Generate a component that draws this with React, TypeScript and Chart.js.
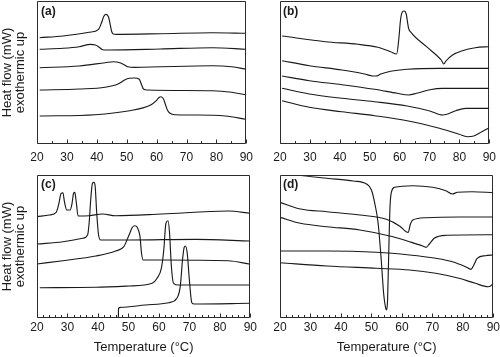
import React, { useEffect, useRef } from 'react';
import { Chart, registerables } from 'chart.js';

Chart.register(...registerables);

// ---------- data (temperature °C, heat flow in arbitrary offset units) ----------
const TEMP_MIN = 20;
const TEMP_MAX = 90;
const HF_MIN = 0;
const HF_MAX = 143;
const xTickLabels = [20, 30, 40, 50, 60, 70, 80, 90];
const panelLabels = ['(a)', '(b)', '(c)', '(d)'];
const yTitle = ['Heat flow (mW)', 'exothermic up'];
const xTitle = 'Temperature (°C)';

// panel (a)
const a1 = [[20.9,106.3],[28.7,108],[37.4,111.7],[40.6,114.7],[41.5,120.7],[42.4,128],[43.1,129.7],[43.9,127.3],[44.4,120.7],[45.0,112.3],[45.5,110],[46.6,109.7],[61.2,110.3],[78.6,111.3],[90,110.7]];
const a2 = [[20.9,94.7],[28.7,95.7],[34.1,97.3],[37.9,99.7],[39.5,99],[40.6,97.3],[41.9,94.3],[43.9,94],[61.2,95],[78.6,96.3],[90,94.7]];
const a3 = [[20.9,76.3],[34.1,78],[42.8,81.3],[45.5,82.3],[47.7,81.3],[49.3,79],[50.4,77.3],[52.6,76.7],[78.6,78.3],[85.1,77.3],[90,74.7]];
const a4 = [[20.9,54],[34.1,55],[42.8,56.7],[47.1,60],[49.3,64],[50.9,65.7],[52.6,66],[54.2,64.7],[55,59],[55.6,55],[56.9,54],[78.6,53.3],[85.1,51.7],[90,49]];
const a5 = [[20.9,28],[39.5,29.3],[50.4,33],[58,39],[59.9,43.3],[60.7,46.3],[61.5,47.3],[62.3,45],[63,39],[63.6,34],[64.5,30.7],[66.1,29.3],[72.1,29],[82.9,28],[90,24.7]];

// panel (b)
const b1 = [[20.7,108],[35.2,102.3],[46.1,99.7],[52.7,96.7],[57,92.3],[59,90],[59.7,104],[60.3,124],[60.9,132],[61.6,133],[62.2,130],[63,115.7],[63.8,111.7],[69,97.3],[73.9,84],[74.8,80],[75.5,83],[77.7,89],[81,93.3],[85.3,96.3],[90,97.3]];
const b2 = [[20.7,83.3],[29.8,78.3],[40.7,74],[48.3,70],[51,68],[52.1,68],[53.7,70],[57,72.7],[62.5,74.7],[73.3,75.7],[90,75.7]];
const b3 = [[20.7,68],[29.8,63.3],[40.7,59.3],[51.6,54.7],[59.2,50.7],[63,49],[65.7,50.7],[70.1,54.3],[74.4,55.7],[90,55.7]];
const b4 = [[20.7,55.7],[29.8,50],[40.7,45.7],[51.6,42.3],[62.5,38],[70.1,33],[74.4,29],[76.1,30],[78.8,33.3],[82.1,35.7],[90,35.7]];
const b5 = [[20.7,43.3],[29.8,36.7],[40.7,32.3],[51.6,28.3],[62.5,23.3],[73.3,15.7],[79.9,9.7],[82.6,7.3],[84.8,8],[87.5,12.3],[90,16.3]];

// panel (c)
const c1 = [[20,101.3],[24.1,103],[26.3,105.7],[27.2,114.7],[27.9,124.7],[28.5,125.3],[29,116.3],[29.8,108],[30.9,108],[31.5,114.7],[32,124.7],[32.4,125.7],[32.8,118],[33.5,102],[37.1,102.3],[41.5,104],[45.8,102.3],[61,104],[82.7,107],[90,104.7]];
const c2 = [[20,74],[28.5,76.3],[35,79.7],[36.6,83],[37.1,94.7],[37.7,121.3],[38.2,134.7],[38.7,135.7],[39.1,131.3],[39.6,104.7],[40.2,83],[40.9,78],[50.2,78],[71.9,78.7],[90,77]];
const c3 = [[20,54],[28.5,57.3],[39.3,62],[45.8,67],[48.5,71.3],[50.2,83],[51.3,90.7],[52.1,92.3],[52.9,90.7],[53.8,81.3],[54.3,64.7],[54.8,58],[61,58],[82.7,57.3],[90,53.7]];
const c4 = [[20.9,30.3],[39.3,30.7],[50.2,32],[57.8,34.7],[59.4,39.7],[60.8,49.7],[61.6,68],[62.3,94.7],[63,97.3],[63.5,84.7],[64.1,51.3],[64.8,34.7],[66.5,33],[90,33]];
const c5 = [[46.7,0.3],[46.75,9.7],[47.5,10.7],[55.6,13],[63.2,15.3],[65.9,19.7],[67,31.3],[67.8,59.7],[68.3,70.7],[68.7,72],[69.3,64.7],[70,38],[70.8,15.3],[71.6,14],[90,14.7]];

// panel (d)
const d1 = [[20,145.3],[25.4,143],[35.4,139.7],[44.1,137],[48.4,134],[50,128],[51.1,114.7],[52.2,94.7],[53.3,54.7],[54,24.7],[54.7,9.7],[55,8],[55.3,18],[55.6,54.7],[56.1,111.3],[56.6,126.3],[57.6,130.7],[63.6,132.3],[70.1,130.7],[74.4,127.3],[76.6,124],[78.2,125.7],[83.1,126.3],[90,125.3]];
const d2 = [[20,115.7],[26.7,109],[35.4,106.3],[46.2,103],[54.9,98.7],[59.2,92],[61.4,86.3],[62.1,85.7],[62.7,93],[63.6,98],[67.9,100.3],[78.7,101],[90,101]];
const d3 = [[20,100.7],[26.7,94.7],[35.4,91.3],[46.2,88],[57.1,81.3],[62.5,76.3],[66.8,72],[67.9,70.7],[69,74],[70.6,79.7],[74.4,82.7],[90,83.3]];
const d4 = [[20,67],[35.4,67],[51.6,65.7],[62.5,63],[71.1,59.7],[76.6,56.3],[80.9,51.3],[82.7,48.7],[83.6,53],[84.7,59.7],[87.4,62.3],[90,63]];
const d5 = [[20,55.3],[35.4,52],[51.6,49.7],[62.5,48],[71.1,44.7],[78.7,39.7],[84.1,34.7],[88.3,31.3],[89.2,32.3],[90,34.7]];

const panelA = [a1, a2, a3, a4, a5];
const panelB = [b1, b2, b3, b4, b5];
const panelC = [c1, c2, c3, c4, c5];
const panelD = [d1, d2, d3, d4, d5];

// ---------- styling ----------
const FONT = '"Liberation Sans", Arial, Helvetica, sans-serif';
const INK = '#1a1a1a';

const framePlugin = {
  id: 'frame',
  afterDraw(chart: any, _args: any, opts: any) {
    const { ctx, chartArea, scales } = chart;
    const { left, top, right, bottom } = chartArea;
    const x = scales.x;
    ctx.save();
    ctx.strokeStyle = '#2b2b2b';
    ctx.lineWidth = 1;
    const l = Math.round(left) + 0.5;
    const t = Math.round(top) + 0.5;
    const r = Math.round(right) - 0.5;
    const b = Math.round(bottom) - 0.5;
    ctx.beginPath();
    ctx.moveTo(l, t);
    ctx.lineTo(r, t);
    ctx.lineTo(r, b);
    ctx.lineTo(l, b);
    ctx.closePath();
    ctx.stroke();
    ctx.beginPath();
    const step = opts.minor || 5;
    for (let v = x.min; v <= x.max + 1e-6; v += step) {
      const px = Math.round(x.getPixelForValue(v)) + 0.5;
      const major = Math.abs(Math.round(v) % 10) === 0;
      const len = major ? 4 : 2.5;
      ctx.moveTo(px, b);
      ctx.lineTo(px, b - len);
    }
    ctx.stroke();
    ctx.restore();
  },
};

type PanelProps = {
  curves: number[][][];
  left: number;
  top: number;
  width: number;
  height: number;
  padTop: number;
  padRight: number;
  yWidth: number;
  xHeight: number;
  minor: number;
  showYTitle: boolean;
  showXTitle: boolean;
  tickPad: number;
};

function Panel(p: PanelProps) {
  const ref = useRef<HTMLCanvasElement | null>(null);
  useEffect(() => {
    if (!ref.current) return;
    const chart = new Chart(ref.current, {
      type: 'line',
      data: {
        datasets: p.curves.map((c) => ({
          data: c.map(([x, y]) => ({ x, y })),
          borderColor: INK,
          borderWidth: 1.15,
          pointRadius: 0,
          fill: false,
          cubicInterpolationMode: 'monotone' as const,
        })),
      },
      options: {
        responsive: false,
        maintainAspectRatio: false,
        animation: false,
        devicePixelRatio: 1,
        layout: { padding: { left: 0, top: p.padTop, right: p.padRight, bottom: 0 } },
        plugins: {
          legend: { display: false },
          tooltip: { enabled: false },
          frame: { minor: p.minor },
        } as any,
        scales: {
          x: {
            type: 'linear',
            min: TEMP_MIN,
            max: TEMP_MAX,
            afterBuildTicks: (s: any) => {
              s.ticks = xTickLabels.map((v) => ({ value: v }));
            },
            ticks: {
              font: { family: FONT, size: 12 },
              color: INK,
              padding: p.tickPad,
              maxRotation: 0,
              autoSkip: false,
            },
            grid: { display: false, drawTicks: false },
            border: { display: false },
            title: {
              display: p.showXTitle,
              text: xTitle,
              font: { family: FONT, size: 13, lineHeight: 1.2 },
              color: INK,
              padding: { top: 0, bottom: 2 },
            },
            afterFit: (s: any) => {
              s.height = p.xHeight;
            },
          },
          y: {
            type: 'linear',
            min: HF_MIN,
            max: HF_MAX,
            ticks: { display: false },
            grid: { display: false, drawTicks: false },
            border: { display: false },
            title: {
              display: p.showYTitle,
              text: yTitle,
              font: { family: FONT, size: 13, lineHeight: 1.0 },
              color: INK,
              padding: { top: 1, bottom: 0 },
            },
            afterFit: (s: any) => {
              s.width = p.yWidth;
            },
          },
        },
      },
      plugins: [framePlugin as any],
    } as any);
    return () => chart.destroy();
  }, []);
  return (
    <canvas
      ref={ref}
      width={p.width}
      height={p.height}
      style={{ position: 'absolute', left: p.left, top: p.top, width: p.width, height: p.height }}
    />
  );
}

const labelStyle = (left: number, top: number): React.CSSProperties => ({
  position: 'absolute',
  left,
  top,
  font: `bold 12px ${FONT}`,
  color: INK,
  lineHeight: '12px',
  whiteSpace: 'nowrap',
});

export default function App() {
  useEffect(() => {
    document.body.style.margin = '0';
  }, []);
  return (
    <div style={{ position: 'absolute', left: 0, top: 0, width: 500, height: 357, background: '#fff', overflow: 'hidden' }}>
      <Panel curves={panelA} left={0} top={0} width={259} height={170} padTop={1} padRight={0} yWidth={37} xHeight={26} minor={5} showYTitle={true} showXTitle={false} tickPad={6} />
      <Panel curves={panelB} left={256} top={0} width={246} height={170} padTop={1} padRight={0} yWidth={24} xHeight={26} minor={5} showYTitle={false} showXTitle={false} tickPad={6} />
      <Panel curves={panelC} left={0} top={170} width={259} height={187} padTop={5} padRight={0} yWidth={37} xHeight={39} minor={2} showYTitle={true} showXTitle={true} tickPad={2} />
      <Panel curves={panelD} left={256} top={170} width={246} height={187} padTop={5} padRight={0} yWidth={24} xHeight={39} minor={2} showYTitle={false} showXTitle={true} tickPad={2} />
      <span style={labelStyle(41, 5)}>{panelLabels[0]}</span>
      <span style={labelStyle(283, 5)}>{panelLabels[1]}</span>
      <span style={labelStyle(41, 178)}>{panelLabels[2]}</span>
      <span style={labelStyle(283, 178)}>{panelLabels[3]}</span>
    </div>
  );
}
